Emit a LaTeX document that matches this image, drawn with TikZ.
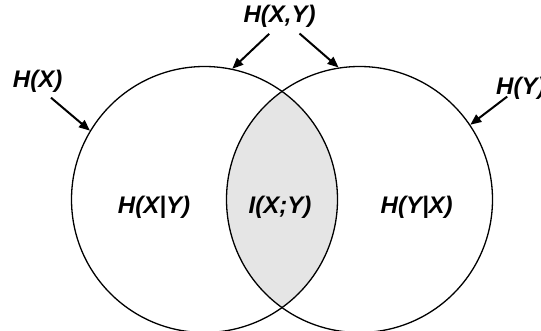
\documentclass[tikz,border=0pt]{standalone}
\usepackage{fontspec}
\setmainfont{Liberation Sans}
\usetikzlibrary{arrows.meta}
\tikzset{
  venn/.style={draw=black, line width=1.3pt, circle, minimum size=266pt, inner sep=0pt},
  lbl/.style={inner sep=0pt, anchor=base, font=\fontsize{24}{28}\selectfont\bfseries\itshape},
  pointer/.style={line width=2pt, -{Triangle[length=11pt,width=9pt]}},
}
\begin{document}
\begin{tikzpicture}[x=1pt,y=-1pt]
\useasboundingbox (0,0) rectangle (541,331);
% lens fill
\begin{scope}
  \clip (204.5,199.5) circle (133pt);
  \fill[black!10] (359.5,199.5) circle (133pt);
\end{scope}
\node[venn] (A) at (204.5,199.5) {};
\node[venn] (B) at (359.5,199.5) {};
% labels
\node[lbl] (hxy) at (279.5,22.5) {H(X,Y)};
\node[lbl] (hx) at (37.6,87.5) {H(X)};
\node[lbl, anchor=base west] (hy) at (496,94.5) {H(Y)};
\node[lbl] (hxgy) at (154,214) {H(X|Y)};
\node[lbl] (ixy) at (280,214) {I(X;Y)};
\node[lbl] (hygx) at (416.7,214) {H(Y|X)};
% arrow starts
\coordinate (s1) at (269.2,33.8);
\coordinate (s2) at (299.5,33.5);
\coordinate (s3) at (51,97.7);
\coordinate (s4) at (507.2,96.6);
\draw[pointer] (s1) -- (A.78.6);
\draw[pointer] (s2) -- (B.99.4);
\draw[pointer] (s3) -- (A.149.1);
\draw[pointer] (s4) -- (B.34);
\end{tikzpicture}
\end{document}
